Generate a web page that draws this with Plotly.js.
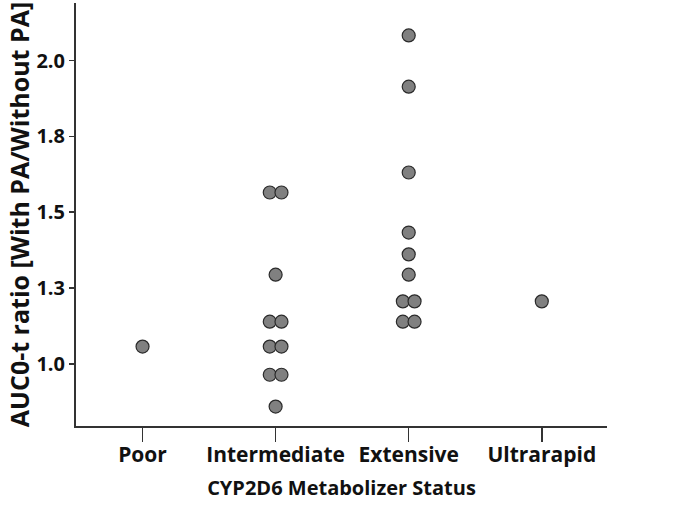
<!DOCTYPE html>
<html>
<head>
<meta charset="utf-8">
<script src="https://cdn.plot.ly/plotly-3.0.1.min.js"></script>
<style>html,body{margin:0;padding:0;background:#fff;}#chart{width:680px;height:517px;}</style>
</head>
<body>
<div id="chart"></div>
<script>
// Categories (x tick labels)
const categories = ["Poor", "Intermediate", "Extensive", "Ultrarapid"];

// Each point: category index, side within a pair (-1 left, 0 centre, 1 right), AUC ratio
const pointCategory = [0,
  1, 1, 1, 1, 1, 1, 1, 1, 1, 1,
  2, 2, 2, 2, 2, 2, 2, 2, 2, 2,
  3];
const pointSide = [0,
  -1, 1, 0, -1, 1, -1, 1, -1, 1, 0,
  0, 0, 0, 0, 0, 0, -1, 1, -1, 1,
  0];
const aucRatio = [1.057,
  1.565, 1.565, 1.294, 1.139, 1.139, 1.057, 1.057, 0.964, 0.964, 0.859,
  2.083, 1.914, 1.631, 1.433, 1.361, 1.294, 1.206, 1.206, 1.139, 1.139,
  1.206];

// Y tick values and labels (as printed)
const yTickVals = [1.0, 1.25, 1.5, 1.75, 2.0];
const yTickText = ["1.0", "1.3", "1.5", "1.8", "2.0"];

const pairOffset = 0.044;
const xs = pointCategory.map((c, i) => c + pointSide[i] * pairOffset);

const trace = {
  type: "scatter",
  mode: "markers",
  x: xs,
  y: aucRatio,
  marker: {size: 13, color: "#808080", line: {color: "#2a2a2a", width: 1.2}},
  hoverinfo: "y",
  showlegend: false
};

const fontFam = "'Open Sans', 'Noto Sans', sans-serif";
const layout = {
  width: 680, height: 517,
  margin: {l: 76, r: 73, t: 3, b: 91},
  paper_bgcolor: "#fff", plot_bgcolor: "#fff",
  font: {family: fontFam, color: "#111"},
  xaxis: {
    range: [-0.5, 3.49],
    tickvals: [0, 1, 2, 3],
    ticktext: categories,
    showgrid: false, zeroline: false,
    showline: true, linecolor: "#333", linewidth: 2,
    ticks: "outside", ticklen: 14, tickwidth: 1.5, tickcolor: "#333",
    ticklabelstandoff: -5,
    tickfont: {size: 21, family: fontFam, weight: "bold"},
    title: {text: "<b>CYP2D6 Metabolizer Status</b>", font: {size: 20, family: fontFam}, standoff: 14}
  },
  yaxis: {
    range: [0.795, 2.19],
    tickvals: yTickVals,
    ticktext: yTickText,
    showgrid: false, zeroline: false,
    showline: true, linecolor: "#333", linewidth: 2,
    ticks: "outside", ticklen: 5, tickwidth: 1.5, tickcolor: "#333",
    tickfont: {size: 20, family: fontFam, weight: "bold"},
    title: {text: "<b>AUC0-t ratio [With PA/Without PA]</b>", font: {size: 25, family: fontFam}, standoff: 0}
  }
};

Plotly.newPlot("chart", [trace], layout, {staticPlot: true, displayModeBar: false});
</script>
</body>
</html>
